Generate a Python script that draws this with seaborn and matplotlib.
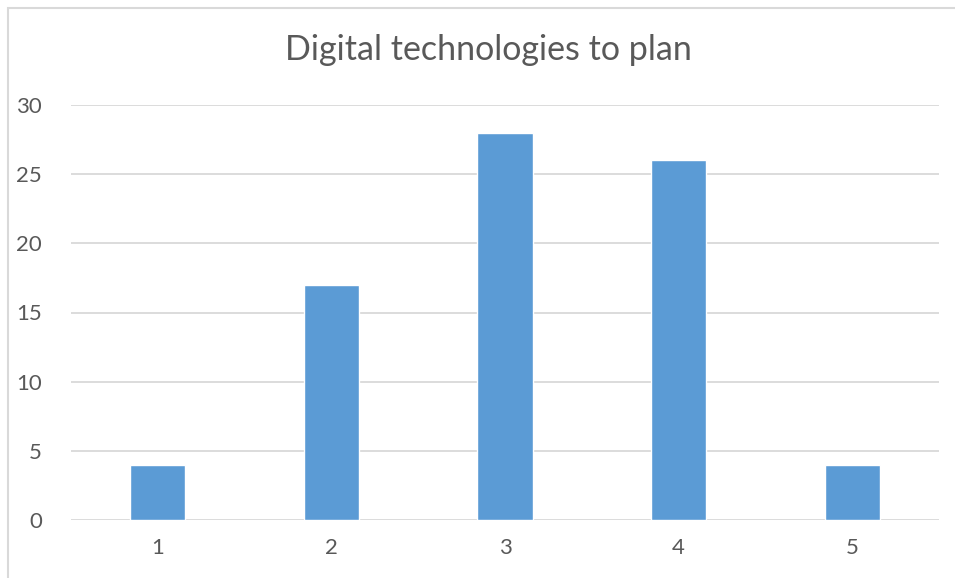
import matplotlib
matplotlib.use('Agg')
import matplotlib.pyplot as plt
import seaborn as sns
import pandas as pd
from matplotlib.patches import Rectangle

# Data
categories = ['1', '2', '3', '4', '5']
counts = [4, 17, 28, 26, 4]
yticks = [0, 5, 10, 15, 20, 25, 30]

df = pd.DataFrame({'cat': categories, 'count': counts})

sns.set_style('white')
plt.rcParams['font.family'] = ['Lato', 'DejaVu Sans']

fig = plt.figure(figsize=(9.55, 5.78), dpi=100)
ax = fig.add_axes([71/955, 1-520/578, 868/955, 415/578])

sns.barplot(data=df, x='cat', y='count', color='#5B9BD5', width=0.317,
            saturation=1, ax=ax, zorder=3)

ax.set_ylim(0, 30)
ax.set_yticks(yticks)
ax.yaxis.grid(True, color='#D9D9D9', linewidth=1.3, zorder=0)
ax.set_axisbelow(True)
for s in ax.spines.values():
    s.set_visible(False)
ax.tick_params(axis='both', length=0, colors='#595959', labelsize=16)
ax.tick_params(axis='x', pad=13)
ax.tick_params(axis='y', pad=21)
ax.set_xlabel('')
ax.set_ylabel('')

fig.text(488/955, 1-50/578, 'Digital technologies to plan', ha='center', va='center',
         fontsize=24.5, color='#595959')

# chart area border (cropped screenshot)
fig.patches.append(Rectangle((8/955, -0.1), 1.2, 1-8/578+0.1, transform=fig.transFigure,
                             fill=False, edgecolor='#D9D9D9', linewidth=1.5))

plt.savefig('out.png', dpi=100)
plt.close()
